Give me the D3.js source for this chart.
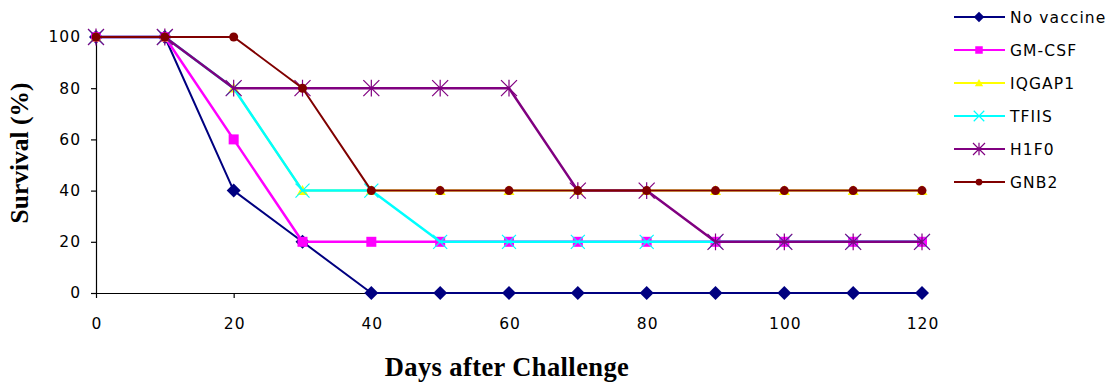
<!DOCTYPE html>
<html><head><meta charset="utf-8">
<script src="https://cdn.jsdelivr.net/npm/d3@7"></script>
<style>body{margin:0;background:#fff}svg{display:block}</style>
</head><body>
<svg id="c" width="1117" height="385"></svg>
<script>
const days = [0,10,20,30,40,50,60,70,80,90,100,110,120];
const noVaccine = [100,100,40,20,0,0,0,0,0,0,0,0,0];
const gmcsf     = [100,100,60,20,20,20,20,20,20,20,20,20,20];
const iqgap1    = [100,100,80,40,40,40,40,40,40,40,40,40,40];
const tfiis     = [100,100,80,40,40,20,20,20,20,20,20,20,20];
const h1f0      = [100,100,80,80,80,80,80,40,40,20,20,20,20];
const gnb2      = [100,100,100,80,40,40,40,40,40,40,40,40,40];
const xTicks = [0,20,40,60,80,100,120];
const yTicks = [0,20,40,60,80,100];
const seriesNames = ["No vaccine","GM-CSF","IQGAP1","TFIIS","H1F0","GNB2"];

const series = [
  {name:seriesNames[0], values:noVaccine, color:"#000080", marker:"diamond", w:2},
  {name:seriesNames[1], values:gmcsf, color:"#FF00FF", marker:"square", w:2.5},
  {name:seriesNames[2], values:iqgap1, color:"#FFFF00", marker:"triangle", w:2},
  {name:seriesNames[3], values:tfiis, color:"#00FFFF", marker:"x", w:2.5},
  {name:seriesNames[4], values:h1f0, color:"#800080", marker:"star", w:2.5},
  {name:seriesNames[5], values:gnb2, color:"#800000", marker:"circle", w:2}
];

const tickFont = "DejaVu Sans, Verdana, sans-serif";
const svg = d3.select("#c");
const x = d3.scaleLinear().domain([0,120]).range([96,922]);
const y = d3.scaleLinear().domain([0,100]).range([293,37]);

// axes
const yAxis = svg.append("g").attr("transform","translate(96,0)")
  .call(d3.axisLeft(y).tickValues(yTicks).tickSize(5).tickPadding(10).tickSizeOuter(0));
const xAxis = svg.append("g").attr("transform","translate(0,293)")
  .call(d3.axisBottom(x).tickValues(xTicks).tickSize(5).tickPadding(20).tickSizeOuter(0));
[yAxis,xAxis].forEach(a=>{
  a.selectAll("path,line").attr("stroke","#000").attr("stroke-width",1.2);
  a.selectAll("text").attr("font-family",tickFont)
    .attr("font-size",15.5).attr("letter-spacing","1px").attr("fill","#000");
});
xAxis.selectAll("text").attr("dx","0.5px");

function drawMarker(g, type, color, cx, cy, scale){
  const s = scale||1;
  if(type==="diamond"){
    const r=7*s;
    g.append("path").attr("d",`M${cx},${cy-r}L${cx+r},${cy}L${cx},${cy+r}L${cx-r},${cy}Z`).attr("fill",color);
  } else if(type==="square"){
    const r=5*s;
    g.append("rect").attr("x",cx-r).attr("y",cy-r).attr("width",2*r).attr("height",2*r).attr("fill",color);
  } else if(type==="triangle"){
    const r=5.5*s;
    g.append("path").attr("d",`M${cx},${cy-r}L${cx+r},${cy+r*0.8}L${cx-r},${cy+r*0.8}Z`).attr("fill",color);
  } else if(type==="x"){
    const r=7*s;
    g.append("path").attr("d",`M${cx-r},${cy-r}L${cx+r},${cy+r}M${cx+r},${cy-r}L${cx-r},${cy+r}`)
      .attr("stroke",color).attr("stroke-width",1.2).attr("fill","none");
  } else if(type==="star"){
    const r=8*s;
    g.append("path").attr("d",`M${cx-r},${cy-r}L${cx+r},${cy+r}M${cx+r},${cy-r}L${cx-r},${cy+r}M${cx},${cy-r*1.05}L${cx},${cy+r*1.05}`)
      .attr("stroke",color).attr("stroke-width",1.2).attr("fill","none");
  } else if(type==="circle"){
    g.append("circle").attr("cx",cx).attr("cy",cy).attr("r",4.5*s).attr("fill",color);
  }
}

const line = d3.line().x((d,i)=>x(days[i])).y(d=>y(d));
series.forEach(s=>{
  const g = svg.append("g");
  g.append("path").datum(s.values).attr("d",line).attr("fill","none")
    .attr("stroke",s.color).attr("stroke-width",s.w).attr("stroke-linejoin","round");
  s.values.forEach((v,i)=>drawMarker(g,s.marker,s.color,x(days[i]),y(v)));
});

// legend
const leg = svg.append("g");
series.forEach((s,i)=>{
  const cy = 17 + i*33;
  leg.append("line").attr("x1",954).attr("x2",1005).attr("y1",cy).attr("y2",cy)
    .attr("stroke",s.color).attr("stroke-width",2);
  drawMarker(leg,s.marker,s.color,979,cy,0.75);
  leg.append("text").attr("x",1010).attr("y",cy+5.5).text(s.name)
    .attr("font-family",tickFont).attr("font-size",15.5).attr("letter-spacing","1.1px").attr("fill","#000");
});

// axis titles
svg.append("text").attr("transform","translate(28,153) rotate(-90)").attr("text-anchor","middle")
  .attr("font-family","Liberation Serif, Times New Roman, serif").attr("font-weight","bold")
  .attr("font-size",25.5).text("Survival (%)");
svg.append("text").attr("x",507).attr("y",376).attr("text-anchor","middle")
  .attr("font-family","Liberation Serif, Times New Roman, serif").attr("font-weight","bold")
  .attr("font-size",26.5).attr("letter-spacing","0.4px").text("Days after Challenge");
</script>
</body></html>
